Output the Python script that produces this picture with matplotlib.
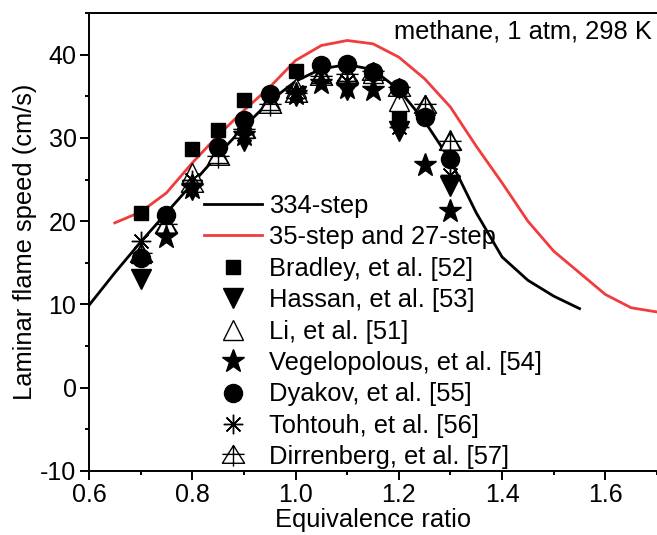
import numpy as np
import matplotlib
matplotlib.use("Agg")
import matplotlib.pyplot as plt
from matplotlib.path import Path

plt.rcParams["font.family"] = ["Liberation Sans", "DejaVu Sans"]
plt.rcParams["axes.unicode_minus"] = False

# simulated laminar flame speeds
phi_334 = [0.60, 0.65, 0.70, 0.75, 0.80, 0.85, 0.90, 0.95, 1.00, 1.05, 1.10,
           1.15, 1.20, 1.25, 1.30, 1.35, 1.40, 1.45, 1.50, 1.55]
su_334 = [9.9, 13.8, 17.5, 21.0, 24.5, 28.0, 31.3, 34.4, 36.8, 38.3, 38.8,
          38.2, 35.8, 32.0, 27.3, 21.0, 15.7, 12.9, 11.0, 9.5]

phi_35 = [0.65, 0.70, 0.75, 0.80, 0.85, 0.90, 0.95, 1.00, 1.05, 1.10, 1.15,
          1.20, 1.25, 1.30, 1.35, 1.40, 1.45, 1.50, 1.55, 1.60, 1.65, 1.70]
su_35 = [19.8, 21.1, 23.4, 27.0, 30.3, 33.3, 36.1, 39.3, 41.1, 41.7, 41.3,
         39.7, 37.1, 33.7, 29.0, 24.6, 20.0, 16.4, 13.8, 11.2, 9.6, 9.1]

# experimental data
phi_bradley = [0.70, 0.80, 0.85, 0.90, 1.00, 1.20]
su_bradley = [21.0, 28.7, 31.0, 34.6, 38.0, 32.3]

phi_hassan = [0.70, 0.80, 0.90, 1.00, 1.10, 1.20, 1.30]
su_hassan = [13.0, 23.8, 29.6, 35.0, 35.8, 30.8, 24.2]

phi_li = [0.70, 0.75, 0.80, 0.85, 0.90, 0.95, 1.00, 1.05, 1.10, 1.15, 1.20, 1.25, 1.30]
su_li = [16.2, 19.8, 25.8, 28.2, 31.2, 34.5, 36.0, 37.8, 37.7, 37.8, 34.4, 34.0, 29.8]

phi_vegel = [0.75, 0.80, 0.90, 1.00, 1.05, 1.10, 1.15, 1.25, 1.30]
su_vegel = [18.1, 24.0, 30.3, 35.3, 36.6, 36.0, 35.7, 26.7, 21.2]

phi_dyakov = [0.70, 0.75, 0.85, 0.90, 0.95, 1.05, 1.10, 1.15, 1.20, 1.25, 1.30]
su_dyakov = [15.6, 20.8, 28.9, 32.1, 35.3, 38.7, 38.9, 37.9, 36.0, 32.5, 27.5]

phi_tohtouh = [0.70, 0.80, 0.90, 1.00, 1.10, 1.20, 1.30]
su_tohtouh = [17.6, 25.0, 30.5, 35.5, 36.8, 31.3, 25.5]

phi_dirr = [0.70, 0.75, 0.80, 0.85, 0.90, 0.95, 1.00, 1.05, 1.10, 1.15, 1.20, 1.25, 1.30]
su_dirr = [16.0, 19.5, 24.5, 27.7, 31.0, 34.0, 35.3, 37.3, 37.5, 37.9, 36.0, 34.0, 29.5]

# open triangle with a cross through it
tri_cross = Path(
    [(-1.0, -0.7), (1.0, -0.7), (0.0, 0.9), (-1.0, -0.7),
     (-1.0, 0.1), (1.0, 0.1),
     (0.0, 0.9), (0.0, -1.0)],
    [Path.MOVETO, Path.LINETO, Path.LINETO, Path.CLOSEPOLY,
     Path.MOVETO, Path.LINETO,
     Path.MOVETO, Path.LINETO])

fig = plt.figure(figsize=(6.57, 5.35), dpi=100)
ax = fig.add_axes([89 / 657, 64 / 535, 1 - 89 / 657, 458 / 535])

ax.plot(phi_334, su_334, color="black", lw=2.0, label="334-step")
ax.plot(phi_35, su_35, color="#f03c3c", lw=2.0, label="35-step and 27-step")

ax.plot(phi_bradley, su_bradley, "s", color="black", ms=10.5, ls="none",
        label="Bradley, et al. [52]")
ax.plot(phi_hassan, su_hassan, "v", color="black", ms=14, ls="none",
        label="Hassan, et al. [53]")
ax.plot(phi_li, su_li, "^", mfc="white", mec="black", mew=1.0, ms=14, ls="none",
        label="Li, et al. [51]")
ax.plot(phi_vegel, su_vegel, "*", color="black", ms=17, ls="none",
        label="Vegelopolous, et al. [54]")
ax.plot(phi_dyakov, su_dyakov, "o", color="black", ms=13, ls="none",
        label="Dyakov, et al. [55]")
ax.plot(phi_tohtouh, su_tohtouh, marker=(8, 2, 0), color="black", mew=1.0,
        ms=14, ls="none", label="Tohtouh, et al. [56]")
ax.plot(phi_dirr, su_dirr, marker=tri_cross, mfc="none", mec="black", mew=1.0,
        ms=16, ls="none", label="Dirrenberg, et al. [57]")

ax.set_xlim(0.6, 1.7)
ax.set_ylim(-10, 45)
ax.set_xticks(np.arange(0.6, 1.61, 0.2))
ax.set_xticks(np.arange(0.7, 1.71, 0.2), minor=True)
ax.set_yticks(np.arange(-10, 41, 10))
ax.set_yticks(np.arange(-5, 46, 10), minor=True)
ax.xaxis.set_major_formatter(matplotlib.ticker.FormatStrFormatter("%.1f"))

for side in ["left", "bottom", "top"]:
    ax.spines[side].set_linewidth(1.4)
ax.spines["right"].set_visible(False)
ax.tick_params(which="major", direction="out", length=6.5, width=1.4,
               labelsize=18, pad=2.5)
ax.tick_params(which="minor", direction="out", length=3.2, width=1.4)
ax.tick_params(top=False, right=False, which="both")

ax.set_xlabel("Equivalence ratio", fontsize=18.4, labelpad=0)
ax.set_ylabel("Laminar flame speed (cm/s)", fontsize=18.4, labelpad=2)

ax.text(1.69, 44.2, "methane, 1 atm, 298 K", ha="right", va="top", fontsize=18.4)

ax.legend(loc="upper left", bbox_to_anchor=(204 / 657, 341 / 535),
          bbox_transform=fig.transFigure, frameon=False, fontsize=18.4,
          borderpad=0, borderaxespad=0, handlelength=2.25, handletextpad=0.3,
          labelspacing=0.29, numpoints=1)

fig.savefig("out.png", dpi=100)
